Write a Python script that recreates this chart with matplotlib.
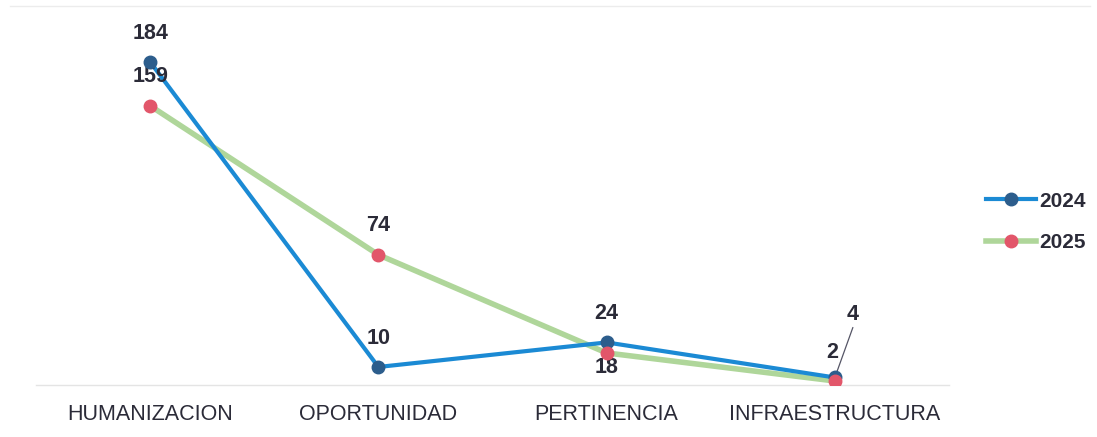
import matplotlib
matplotlib.use("Agg")
import matplotlib.pyplot as plt
from matplotlib.lines import Line2D

categories = ["HUMANIZACION", "OPORTUNIDAD", "PERTINENCIA", "INFRAESTRUCTURA"]
values_2024 = [184, 10, 24, 4]
values_2025 = [159, 74, 18, 2]
series_names = ["2024", "2025"]

plt.rcParams['font.family'] = ['Liberation Sans', 'DejaVu Sans']

W, H = 1097, 437
fig = plt.figure(figsize=(W / 100, H / 100), dpi=100)
fig.patch.set_facecolor("white")

left, right = 36 / W, 949 / W
bottom = 1 - 384.5 / H
top = 1 - 20 / H
ax = fig.add_axes([left, bottom, right - left, top - bottom])

x = list(range(len(categories)))
blue_line = "#1b8ad4"
blue_mark = "#2c5d8c"
green_line = "#afd69a"
red_mark = "#e2566a"
text_col = "#2b2b38"

ax.plot(x, values_2025, color=green_line, lw=4.0, zorder=2, solid_capstyle="round")
ax.plot(x, values_2024, color=blue_line, lw=3.0, zorder=3, solid_capstyle="round")
ax.plot(x, values_2024, 'o', color=blue_mark, ms=9, zorder=4)
ax.plot(x, values_2025, 'o', color=red_mark, ms=9, zorder=5)

ax.set_xlim(-0.5, len(categories) - 0.5)
ax.set_ylim(0, (384.5 - 20) / 1.753)

for s in ["top", "right", "left"]:
    ax.spines[s].set_visible(False)
ax.spines["bottom"].set_color("#e4e4e4")
ax.spines["bottom"].set_linewidth(1.0)
ax.set_yticks([])
ax.set_xticks(x)
ax.set_xticklabels(categories, fontsize=15.5, color=text_col)
ax.tick_params(axis="x", length=0, pad=14)

lab_kw = dict(fontsize=15.5, color=text_col, ha="center", va="center", fontweight="bold")
offsets_2024 = [(0, 28), (0, 28), (0, 29), (18, 63)]
for xi, v, (dx, dy) in zip(x, values_2024, offsets_2024):
    ax.annotate(str(v), (xi, v), xytext=(dx, dy), textcoords="offset pixels", **lab_kw)
# leader line for INFRAESTRUCTURA 2024
ax.annotate("", (x[3], values_2024[3]), xytext=(18, 50), textcoords="offset pixels",
            arrowprops=dict(arrowstyle="-", color="#555566", lw=0.9, shrinkA=0, shrinkB=2))
offsets_2025 = [(0, 29), (0, 29), (0, -15), (-3, 28)]
for xi, v, (dx, dy) in zip(x, values_2025, offsets_2025):
    ax.annotate(str(v), (xi, v), xytext=(dx, dy), textcoords="offset pixels", **lab_kw)

handles = [
    Line2D([], [], color=blue_line, lw=3.0, marker='o', ms=9, markerfacecolor=blue_mark,
           markeredgecolor=blue_mark),
    Line2D([], [], color=green_line, lw=4.0, marker='o', ms=9, markerfacecolor=red_mark,
           markeredgecolor=red_mark),
]
fig.legend(handles, series_names, loc="center left", bbox_to_anchor=(967 / W, 1 - 222 / H),
           frameon=False, handlelength=2.4, handletextpad=0.15,
           labelspacing=1.1, labelcolor=text_col,
           prop=dict(size=15, weight="bold"))

fig.add_artist(Line2D([10 / W, 1090 / W], [1 - 6 / H, 1 - 6 / H], color="#ececec", lw=1))

fig.savefig("out.png", dpi=100, facecolor="white")
